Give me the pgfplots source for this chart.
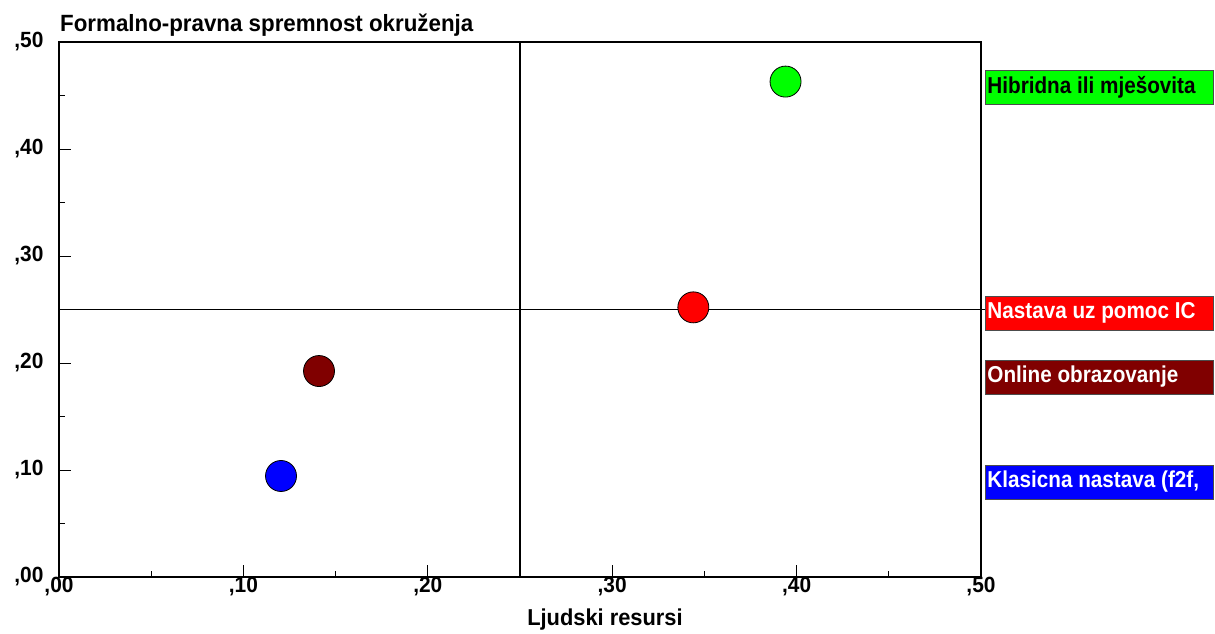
\documentclass[border=0pt]{standalone}
\usepackage{pgfplots}
\pgfplotsset{compat=1.18}
\usepackage{fontspec}
\setmainfont{Liberation Sans}
\newfontfamily\cf{Liberation Sans}[FakeStretch=0.95]
\newfontfamily\cfn{Liberation Sans}[FakeStretch=0.9]
\definecolor{cgreen}{RGB}{0,255,0}
\definecolor{cred}{RGB}{255,0,0}
\definecolor{cdred}{RGB}{128,0,0}
\definecolor{cblue}{RGB}{0,0,255}
\begin{document}
\begin{tikzpicture}[x=1pt,y=1pt]
\begin{axis}[
  at={(59pt,56pt)}, anchor=south west,
  scale only axis, width=922pt, height=535pt,
  xmin=0, xmax=0.5, ymin=0, ymax=0.5,
  clip=false,
  axis line style={line width=1.3pt},
  xtick={0,0.1,0.2,0.3,0.4,0.5},
  ytick={0,0.1,0.2,0.3,0.4,0.5},
  xticklabels={{,00},{,10},{,20},{,30},{,40},{,50}},
  yticklabels={{,00},{,10},{,20},{,30},{,40},{,50}},
  minor tick num=1,
  tick align=inside, xtick pos=bottom, ytick pos=left,
  major tick length=12pt, minor tick length=6pt,
  tick style={line width=1pt, black},
  ticklabel style={font=\cf\bfseries\fontsize{22}{22}\selectfont},
  yticklabel style={xshift=-12pt},
  xticklabel style={yshift=3pt},
]
\addplot[line width=1.1pt, black] coordinates {(0.25,0) (0.25,0.5)};
\addplot[line width=1.1pt, black] coordinates {(0,0.25) (0.5022,0.25)};
\addplot[only marks, mark=*, mark size=15.5pt, mark options={fill=cgreen, draw=black, line width=0.8pt}] coordinates {(0.394,0.463)};
\addplot[only marks, mark=*, mark size=15.5pt, mark options={fill=cred, draw=black, line width=0.8pt}] coordinates {(0.344,0.252)};
\addplot[only marks, mark=*, mark size=15.5pt, mark options={fill=cdred, draw=black, line width=0.8pt}] coordinates {(0.141,0.1925)};
\addplot[only marks, mark=*, mark size=15.5pt, mark options={fill=cblue, draw=black, line width=0.8pt}] coordinates {(0.1204,0.0944)};
\end{axis}
% title and axis label
\node[anchor=base west, inner sep=0pt, font=\cf\bfseries\fontsize{23.5}{23.5}\selectfont] at (60,601) {Formalno-pravna spremnost okruženja};
\node[anchor=base, inner sep=0pt, font=\cf\bfseries\fontsize{23}{23}\selectfont] at (605,8) {Ljudski resursi};
% label boxes
\tikzset{lbl/.style={anchor=west, minimum width=228pt, minimum height=34pt, inner sep=1pt, draw=black!70, line width=0.8pt, font=\cfn\bfseries\fontsize{23}{23}\selectfont}}
\node[lbl, fill=cgreen, text=black] at (985,546) {\makebox[224pt][l]{Hibridna ili mješovita}};
\node[lbl, fill=cred, text=white] at (985,320) {\makebox[224pt][l]{Nastava uz pomoc IC}};
\node[lbl, fill=cdred, text=white] at (985,256) {\makebox[224pt][l]{Online obrazovanje}};
\node[lbl, fill=cblue, text=white] at (985,151) {\makebox[224pt][l]{Klasicna nastava (f2f,}};
\pgfresetboundingbox
\path[use as bounding box] (0,0) rectangle (1215,633);
\end{tikzpicture}
\end{document}
